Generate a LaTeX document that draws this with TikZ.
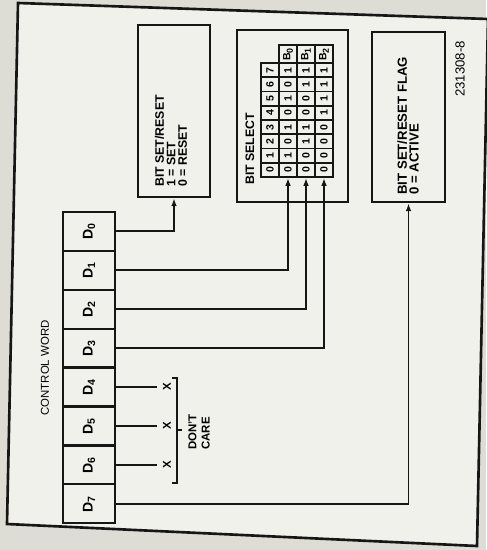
\documentclass[tikz,border=0pt]{standalone}
\usepackage{graphicx}
\usepackage{fontspec}
\setmainfont{Liberation Sans}
\usetikzlibrary{positioning,arrows.meta,calc}
\definecolor{tinta}{HTML}{161614}
\definecolor{papel}{HTML}{F1F1EC}
\definecolor{borde}{HTML}{DDDDD6}

\tikzset{
  caja/.style={draw=tinta,line width=1.4pt,inner sep=0pt},
  celda/.style={draw=tinta,line width=1pt,inner sep=0pt,minimum width=0.36cm,minimum height=0.285cm,font=\fontsize{6}{6.5}\selectfont\bfseries},
  bitcw/.style={draw=tinta,line width=1.3pt,inner sep=0pt,minimum width=1.04cm,minimum height=0.778cm,font=\fontsize{8}{9}\selectfont\bfseries},
  rotulo/.style={rotate=90,inner sep=0pt,align=left,font=\fontsize{7}{6.6}\selectfont\bfseries},
  linea/.style={draw=tinta,line width=1.1pt},
  flecha/.style={linea,-{Latex[length=4.5pt,width=3.2pt]}},
}

\begin{document}
\begin{tikzpicture}[x=0.02cm,y=-0.02cm]
    \useasboundingbox (0,0) rectangle (486,550);
    \fill[borde] (0,0) rectangle (486,550);
    % marco de la hoja
    \draw[tinta,line width=1.5pt,fill=papel] (18,3) -- (488,19) -- (477,546) -- (7,524) -- cycle;

    % palabra de control
    \foreach \k in {0,...,7}
      \node[bitcw] (d\k) at (89,{212+(\k+0.5)*38.9}) {\rotatebox{90}{D\textsubscript{\k}}};
    \node[rotulo,font=\fontsize{6.5}{7}\selectfont] (cw) at (45,368) {CONTROL WORD};

    % cajas
    \node[caja,minimum width=1.44cm,minimum height=3.44cm] (bsr) at (174,111) {};
    \node[rotulo,anchor=west] (bsrtxt) at (171,187) {BIT SET/RESET\\1 = SET\\0 = RESET};
    \node[caja,minimum width=2.22cm,minimum height=3.44cm] (sel) at (292.5,116) {};
    \node[rotulo,anchor=west] (seltxt) at (250,185) {BIT SELECT};
    \node[caja,minimum width=1.46cm,minimum height=3.40cm] (flag) at (408.5,117) {};
    \node[rotulo,anchor=west,font=\fontsize{7.5}{6.6}\selectfont\bfseries] (flagtxt) at (408,195) {BIT SET/RESET FLAG\\0 = ACTIVE};
    \node[rotulo,font=\fontsize{7.5}{8}\selectfont] (ref) at (460,69) {231308-8};

    % tabla de seleccion
    \foreach \k in {0,...,7}{
      \pgfmathsetmacro\yy{177-(\k+0.5)*14.25}
      \node[celda] (h\k) at (270,\yy) {\rotatebox{90}{\k}};
      \foreach \j/\xx in {0/288,1/306,2/324}{
        \pgfmathtruncatemacro\v{mod(floor(\k/2^\j),2)}
        \node[celda] (b\j-\k) at (\xx,\yy) {\rotatebox{90}{\v}};
      }
    }
    \foreach \j/\xx in {0/288,1/306,2/324}
      \node[celda,minimum height=0.36cm] (lb\j) at (\xx,54) {\rotatebox{90}{B\textsubscript{\j}}};

    % conexiones
    \draw[flecha] (d0.east) -| (bsr.south);
    \foreach \k/\j in {1/0,2/1,3/2}
      \draw[flecha] (d\k.east) -| (b\j-0.south);
    \draw[flecha] (d7.east) -| (flag.south);

    % bits sin uso
    \foreach \k in {4,5,6}{
      \node[rotulo,inner sep=1pt,font=\fontsize{6.5}{7}\selectfont\bfseries] (x\k) at (167,{212+(\k+0.5)*38.9}) {X};
      \draw[linea,shorten >=2pt] (d\k.east) -- (x\k);
    }
    \draw[linea] (172,378) -- (177,378) -- (177,483) -- (172,483);
    \draw[linea] (177,430) -- (182,430);
    \node[rotulo,anchor=west,font=\fontsize{6.5}{7.5}\selectfont\bfseries] (dc) at (199,450) {DON'T\\CARE};
  \end{tikzpicture}
\end{document}
